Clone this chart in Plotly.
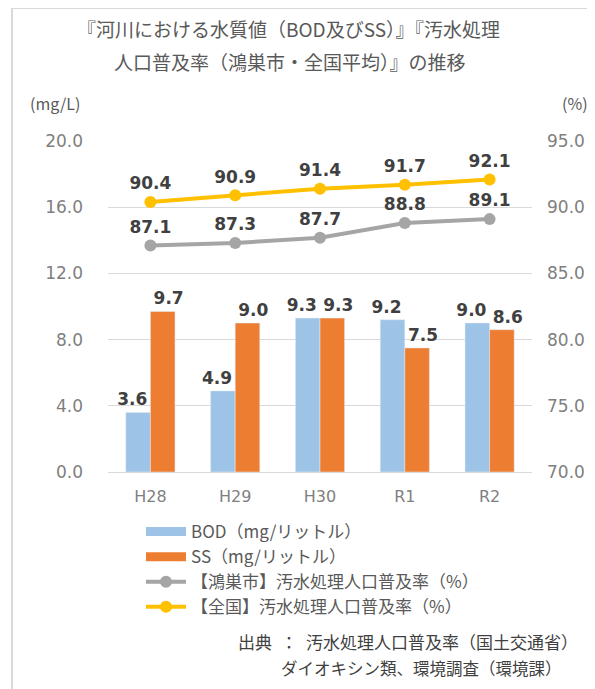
import plotly.graph_objects as go

categories = ["H28", "H29", "H30", "R1", "R2"]
bod = [3.6, 4.9, 9.3, 9.2, 9.0]
ss = [9.7, 9.0, 9.3, 7.5, 8.6]
konosu_rate = [87.1, 87.3, 87.7, 88.8, 89.1]
national_rate = [90.4, 90.9, 91.4, 91.7, 92.1]

left_ticks = [0, 4, 8, 12, 16, 20]
right_ticks = [70, 75, 80, 85, 90, 95]

OFF = 8  # page body margin
W, H = 587, 681
L, T = 108 - OFF, 141 - OFF
plot_right, plot_bottom = 532 - OFF, 472 - OFF
R, B = W - plot_right, H - plot_bottom
pw, ph = plot_right - L, plot_bottom - T


def px(xpage):
    return (xpage - OFF - L) / pw


def py(ypage):
    return (plot_bottom - (ypage - OFF)) / ph


JP = "Noto Sans CJK JP"
NUM = "DejaVu Sans"
label_font = dict(family=NUM, size=17, color="#404040", weight="bold")
FS = "\u2007"  # figure space, nudges paired bar labels apart as in the reference

BLUE, ORANGE, GRAY, YELLOW = "#9DC3E6", "#ED7D31", "#A5A5A5", "#FFC000"

fig = go.Figure()
fig.add_trace(go.Bar(
    x=categories, y=bod, name="BOD（mg/リットル）", showlegend=False,
    marker_color=BLUE, text=[f"{v:.1f}{FS}" for v in bod],
    textposition="outside", textfont=label_font, cliponaxis=False,
    constraintext="none",
))
fig.add_trace(go.Bar(
    x=categories, y=ss, name="SS（mg/リットル）", showlegend=False,
    marker_color=ORANGE, text=[f"{FS}{v:.1f}" for v in ss],
    textposition="outside", textfont=label_font, cliponaxis=False,
    constraintext="none",
))
fig.add_trace(go.Scatter(
    x=categories, y=konosu_rate, name="【鴻巣市】汚水処理人口普及率（%）",
    mode="lines+markers+text", yaxis="y2", legendrank=3,
    line=dict(color=GRAY, width=4), marker=dict(size=12, color=GRAY),
    text=[f"{v:.1f}" for v in konosu_rate], textposition="top center",
    textfont=label_font, cliponaxis=False,
))
fig.add_trace(go.Scatter(
    x=categories, y=national_rate, name="【全国】汚水処理人口普及率（%）",
    mode="lines+markers+text", yaxis="y2", legendrank=4,
    line=dict(color=YELLOW, width=4), marker=dict(size=12, color=YELLOW),
    text=[f"{v:.1f}" for v in national_rate], textposition="top center",
    textfont=label_font, cliponaxis=False,
))
# legend swatches for the bar series (wide rectangles as in the reference)
fig.add_trace(go.Scatter(x=[None], y=[None], mode="lines", name="BOD（mg/リットル）",
                         line=dict(color=BLUE, width=9), legendrank=1))
fig.add_trace(go.Scatter(x=[None], y=[None], mode="lines", name="SS（mg/リットル）",
                         line=dict(color=ORANGE, width=9), legendrank=2))

tickfont = dict(family=NUM, size=17, color="#7F7F7F")

fig.update_layout(
    width=W, height=H,
    margin=dict(l=L, r=R, t=T, b=B, autoexpand=False),
    paper_bgcolor="white", plot_bgcolor="white",
    barmode="group", bargap=0.42, bargroupgap=0,
    showlegend=True,
    legend=dict(
        x=px(141), y=py(514), xanchor="left", yanchor="top",
        font=dict(family=JP, size=17, color="#595959"),
        tracegroupgap=0, itemwidth=40, bgcolor="rgba(0,0,0,0)",
        traceorder="normal",
    ),
    xaxis=dict(
        tickfont=dict(family=NUM, size=16, color="#7F7F7F"),
        showline=True, linecolor="#D9D9D9", linewidth=1,
        ticks="", showgrid=False, ticklabelstandoff=10,
    ),
    yaxis=dict(
        range=[0, 20], tickvals=left_ticks, ticktext=[f"{v:.1f}" for v in left_ticks],
        tickfont=tickfont, showgrid=True, gridcolor="#D9D9D9", gridwidth=1,
        zeroline=False, ticklabelstandoff=24,
    ),
    yaxis2=dict(
        range=[70, 95], tickvals=right_ticks, ticktext=[f"{v:.1f}" for v in right_ticks],
        tickfont=tickfont, overlaying="y", side="right", showgrid=False,
        zeroline=False, ticklabelstandoff=14,
    ),
    shapes=[dict(
        type="rect", xref="paper", yref="paper",
        x0=px(12), x1=px(640), y0=py(740), y1=py(8),
        line=dict(color="#D9D9D9", width=2), fillcolor="rgba(0,0,0,0)", layer="below",
    )],
)

ann = [
    ("『河川における水質値（BOD及びSS）』『汚水処理", 288, 29, "center", 19, "#595959"),
    ("人口普及率（鴻巣市・全国平均）』の推移", 290, 61, "center", 19, "#595959"),
    ("(mg/L)", 28, 103, "left", 16, "#595959"),
    ("(%)", 590, 103, "right", 16, "#595959"),
    ("出典\u2002：\u2002汚水処理人口普及率（国土交通省）", 580, 641, "right", 17, "#404040"),
    ("ダイオキシン類、環境調査（環境課）", 564, 668, "right", 16.5, "#404040"),
]
for text, x, y, anchor, size, color in ann:
    fig.add_annotation(
        text=text, xref="paper", yref="paper", x=px(x), y=py(y),
        xanchor=anchor, yanchor="middle", showarrow=False,
        font=dict(family=JP, size=size, color=color),
    )

fig.write_html("out.html")
